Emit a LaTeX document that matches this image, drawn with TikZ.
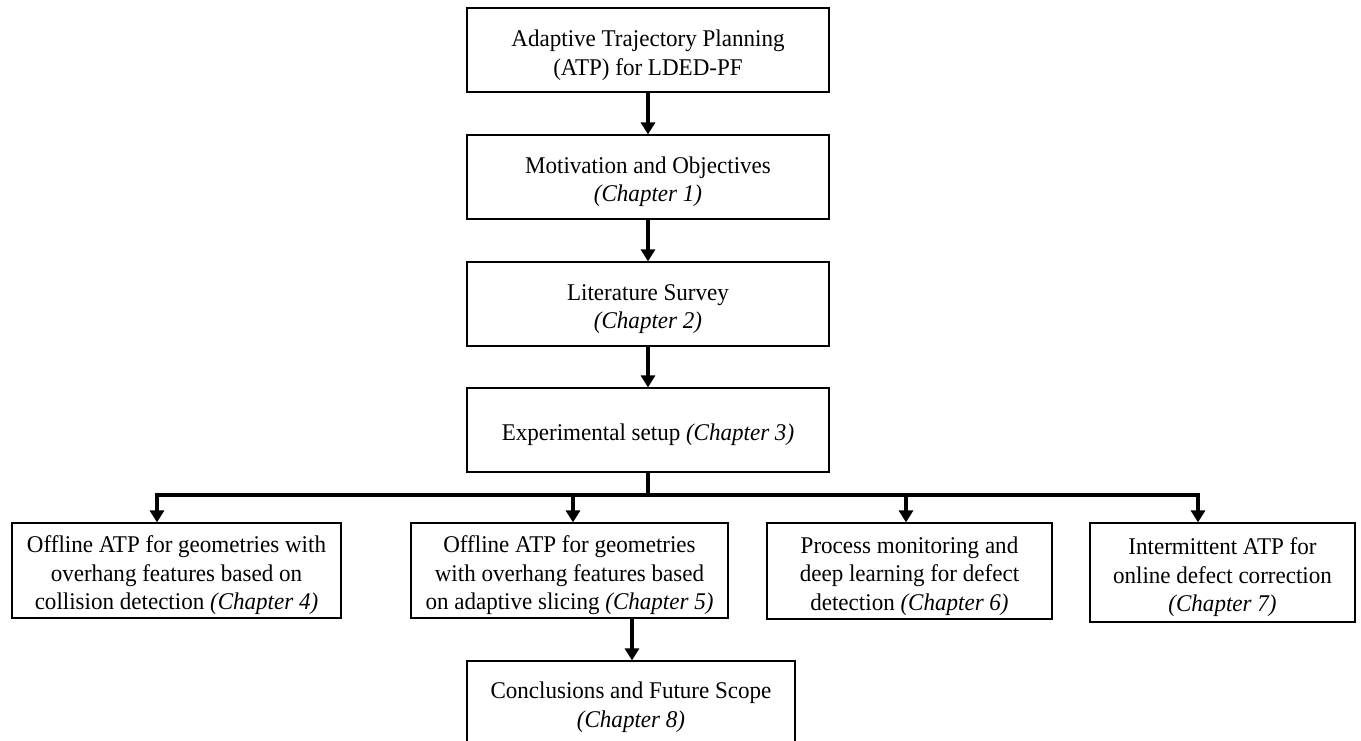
\documentclass[tikz,border=0pt]{standalone}
\usepackage{fontspec}
\setmainfont{Liberation Serif}[FakeStretch=0.96]
\usetikzlibrary{arrows.meta,calc}
\tikzset{
  boxnode/.style={draw=black, line width=1.2pt, inner sep=0pt},
  txt/.style={inner sep=0pt, align=center, font=\fontsize{24}{28.5}\selectfont},
  thickline/.style={line width=4pt, line join=miter},
  arr/.style={line width=4pt, line join=miter, -{Triangle[width=14pt,length=12pt]}},
}
\begin{document}
\begin{tikzpicture}[x=1pt,y=-1pt]
\useasboundingbox (0,0) rectangle (1361,740);
\fill[white] (0,0) rectangle (1361,740);

\node[boxnode, minimum width=362pt, minimum height=84pt] (t1) at (648,50) {};
\node[txt] (t1l) at ($(t1)+(0,5)$) {Adaptive Trajectory Planning\\(ATP) for LDED-PF};
\node[boxnode, minimum width=362pt, minimum height=84pt] (t2) at (648,177) {};
\node[txt] (t2l) at ($(t2)+(0,4.5)$) {Motivation and Objectives\\\textit{(Chapter 1)}};
\node[boxnode, minimum width=362pt, minimum height=84pt] (t3) at (648,304) {};
\node[txt] (t3l) at ($(t3)+(0,5)$) {Literature Survey\\\textit{(Chapter 2)}};
\node[boxnode, minimum width=362pt, minimum height=84pt] (t4) at (648,430) {};
\node[txt] (t4l) at ($(t4)+(0,5)$) {Experimental\ setup \textit{(Chapter 3)}};

\node[boxnode, minimum width=329pt, minimum height=95pt] (A) at (176.5,570.5) {};
\node[txt] (Al) at ($(A)+(0,5)$) {Offline ATP for geometries with\\overhang features based on\\collision detection \textit{(Chapter 4)}};
\node[boxnode, minimum width=317pt, minimum height=95pt] (B) at (569.5,570.5) {};
\node[txt] (Bl) at ($(B)+(0,5)$) {Offline ATP for geometries\\with overhang features based\\on adaptive slicing \textit{(Chapter 5)}};
\node[boxnode, minimum width=285pt, minimum height=96pt] (C) at (909.5,571) {};
\node[txt] (Cl) at ($(C)+(0,5)$) {Process monitoring and\\deep learning for defect\\detection \textit{(Chapter 6)}};
\node[boxnode, minimum width=265pt, minimum height=99pt] (D) at (1222.5,572.5) {};
\node[txt] (Dl) at ($(D)+(0,5)$) {Intermittent ATP for\\online defect correction\\\textit{(Chapter 7)}};
\node[boxnode, minimum width=328pt, minimum height=86pt] (E) at (631,704) {};
\node[txt] (El) at ($(E)+(0,3)$) {Conclusions and Future Scope\\\textit{(Chapter 8)}};

\draw[arr] (t1) -- (t2);
\draw[arr] (t2) -- (t3);
\draw[arr] (t3) -- (t4);

\coordinate (br) at (648,495);
\coordinate (bl) at (157,495);
\coordinate (bb) at (573,495);
\coordinate (bc) at (906,495);
\coordinate (bd) at (1198,495);

\draw[thickline] (t4.south) -- (br);
\draw[arr] (br) -- (bl) -- (bl |- A.north);
\draw[arr] (br) -- (bd) -- (bd |- D.north);
\draw[arr] (bb) -- (bb |- B.north);
\draw[arr] (bc) -- (bc |- C.north);

\coordinate (be) at (632,618);
\draw[arr] (be |- B.south) -- (be |- E.north);
\end{tikzpicture}
\end{document}
